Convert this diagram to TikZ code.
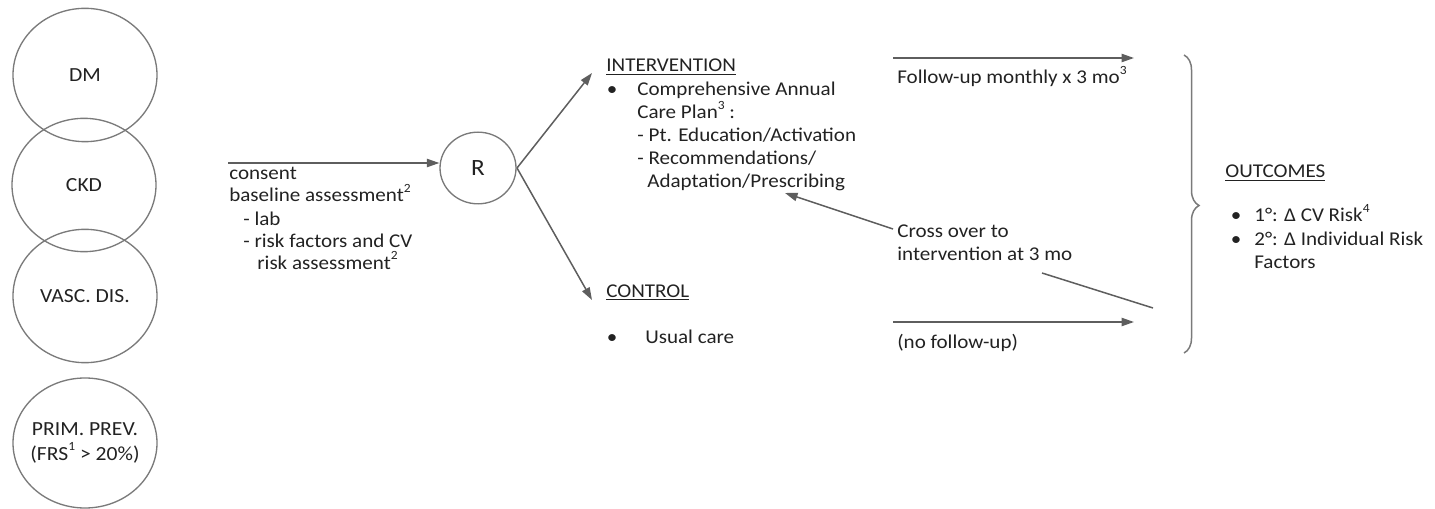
\documentclass[tikz,border=0pt]{standalone}
\usepackage{fontspec}
\setmainfont{Carlito}[FakeStretch=1.08]
\usetikzlibrary{arrows.meta,decorations.pathreplacing,shapes.geometric}
\definecolor{lncol}{HTML}{5E5E5E}
\definecolor{ringcol}{HTML}{7A7A7A}
\definecolor{tx}{HTML}{222222}
\newcommand{\supx}[1]{\raisebox{1.0ex}{\fontsize{7.5}{8}\selectfont #1}}
\begin{document}
\begin{tikzpicture}[x=0.6pt,y=-0.6pt,
  txt/.style={anchor=base west, inner sep=0pt, text=tx, font=\fontsize{11.7}{14}\selectfont},
  bul/.style={anchor=base, inner sep=0pt, text=tx, font=\fontsize{11.7}{14}\selectfont},
  ctxt/.style={align=center, text=tx, font=\fontsize{12}{15}\selectfont},
  ring/.style={ellipse, draw=ringcol, line width=0.8pt, minimum width=86.4pt, minimum height=80pt, inner sep=0pt},
  ln/.style={draw=lncol, line width=0.9pt},
  arr/.style={ln, -{Triangle[length=7.5pt,width=5pt]}}]
\useasboundingbox (0,0) rectangle (1435,509);
% left circles
\node[ring] (dm) at (85,75) {};
\node[ring] (ckd) at (84,185) {};
\node[ring] (vasc) at (85,296) {};
\node[ring, minimum height=78pt] (prim) at (85,443) {};
\node[ctxt] (dmt) at (dm.center) {DM};
\node[ctxt] (ckdt) at (ckd.center) {CKD};
\node[ctxt] (vasct) at (vasc.center) {VASC. DIS.};
\node[ctxt] (primt) at (prim.center) {PRIM. PREV.\\(FRS\supx{1} > 20\%)};
% consent
\coordinate (c0) at (228,163);
\node[txt] (t1) at (229,180) {consent};
\node[txt] (t2) at (229,202) {baseline assessment\supx{2}};
\node[txt] (t3) at (243,225) {- lab};
\node[txt] (t4) at (243,247) {- risk factors and CV};
\node[txt] (t5) at (257,269) {risk assessment\supx{2}};
% R
\node[ellipse, draw=ringcol, line width=0.8pt, minimum width=45.6pt, minimum height=43pt, inner sep=0pt,
      text=tx, font=\fontsize{14}{16}\selectfont] (R) at (478,168) {R};
\draw[arr] (c0) -- (c0 -| R.west);
\coordinate (rs) at (517,168);
\coordinate (ie) at (592,73);
\coordinate (ce) at (592,300);
\draw[arr] (rs) -- (ie);
\draw[arr] (rs) -- (ce);
% intervention
\node[txt] (int) at (606,72) {\underline{INTERVENTION}};
\node[bul] (ib) at (612,96) {•};
\node[txt] (i1) at (637,96) {Comprehensive Annual};
\node[txt] (i2) at (637,119) {Care Plan\supx{3} :};
\node[txt] (i3) at (637,142) {- Pt. Education/Activation};
\node[txt] (i4) at (637,165) {- Recommendations/};
\node[txt] (i5) at (647,188) {Adaptation/Prescribing};
% control
\node[txt] (ctl) at (606,297) {\underline{CONTROL}};
\node[bul] (cb) at (612,343) {•};
\node[txt] (c1) at (645,343) {Usual care};
% right arrows
\coordinate (a1s) at (893,58);
\coordinate (a1e) at (1134,58);
\draw[arr] (a1s) -- (a1e);
\node[txt] (f1) at (897,84) {Follow-up monthly x 3 mo\supx{3}};
\coordinate (a2s) at (893,322);
\coordinate (a2e) at (1134,322);
\draw[arr] (a2s) -- (a2e);
\node[txt] (f2) at (897,348) {(no follow-up)};
\coordinate (xs) at (893,229);
\coordinate (xe) at (785,193);
\draw[arr] (xs) -- (xe);
\node[txt] (x1) at (897,237) {Cross over to};
\node[txt] (x2) at (897,260) {intervention at 3 mo};
\coordinate (ls) at (1042,273);
\coordinate (le) at (1153,308);
\draw[ln] (ls) -- (le);
% brace
\coordinate (bt) at (1184,55);
\coordinate (bb) at (1184,353);
\draw[ringcol, line width=0.9pt, decorate, decoration={brace, amplitude=9pt, aspect=0.505}] (bt) -- (bb);
% outcomes
\node[txt] (oc) at (1225,178) {\underline{OUTCOMES}};
\node[bul] (ob1) at (1236,222) {•};
\node[bul] (ob2) at (1236,245) {•};
\node[txt] (o1) at (1254,222) {1°: Δ CV Risk\supx{4}};
\node[txt] (o2) at (1254,245) {2°: Δ Individual Risk};
\node[txt] (o3) at (1254,268) {Factors};
\end{tikzpicture}
\end{document}
